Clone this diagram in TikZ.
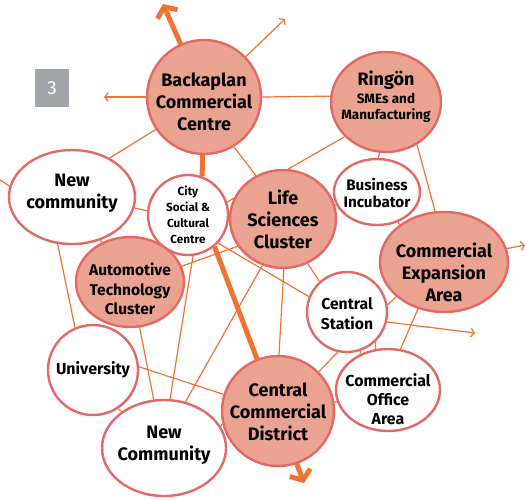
\documentclass[tikz,border=0pt]{standalone}
\usepackage{fontspec}
\setmainfont{Fira Sans}
\usetikzlibrary{shapes.geometric,arrows.meta,backgrounds}
\definecolor{salmon}{HTML}{EAA291}
\definecolor{rim}{HTML}{E46864}
\definecolor{ora}{HTML}{F07332}
\definecolor{boxgray}{HTML}{A2A6AA}
\tikzset{
  hub/.style={ellipse,draw=rim,line width=2.4pt,fill=salmon,inner sep=0pt},
  spoke/.style={ellipse,draw=rim,line width=2.4pt,fill=white,inner sep=0pt},
  lbl/.style={align=center,inner sep=0pt,text=black},
  big/.style={font=\bfseries\fontsize{18}{22}\selectfont},
  link/.style={draw=ora,line width=1.2pt},
  thinarrow/.style={draw=ora,line width=1.2pt,-{Straight Barb[length=3.5pt,width=9pt]}},
  mainline/.style={draw=ora,line width=5pt},
  mainarrow/.style={draw=ora,line width=5pt,-{Straight Barb[length=8pt,width=22pt]}}
}
\begin{document}
\begin{tikzpicture}[x=1pt,y=-1pt]
\useasboundingbox (0,0) rectangle (526,499);
% nodes
\node[hub,minimum width=114pt,minimum height=114pt] (bp) at (204,97) {};
\node[hub,minimum width=110pt,minimum height=100pt] (rg) at (386,102) {};
\node[spoke,minimum width=86pt,minimum height=66pt] (bi) at (377,192) {};
\node[spoke,minimum width=126pt,minimum height=94pt] (nc) at (72,197) {};
\node[spoke,minimum width=80pt,minimum height=80pt] (city) at (188,215) {};
\node[hub,minimum width=106pt,minimum height=98pt] (ls) at (283,219) {};
\node[hub,minimum width=108pt,minimum height=90pt] (atc) at (130,282) {};
\node[hub,minimum width=128pt,minimum height=100pt] (cea) at (444,262) {};
\node[spoke,minimum width=80pt,minimum height=80pt] (cs) at (347,312) {};
\node[spoke,minimum width=90pt,minimum height=90pt] (uni) at (93,370) {};
\node[hub,minimum width=112pt,minimum height=110pt] (ccd) at (278,411) {};
\node[spoke,minimum width=104pt,minimum height=82pt] (coa) at (388,390) {};
\node[spoke,minimum width=124pt,minimum height=96pt] (ncb) at (164,448) {};
% labels
\node[lbl,big] (bp-t) at (204,102) {Backaplan\\Commercial\\Centre};
\node[lbl,big] (rg-t) at (386,80) {Ringön};
\node[lbl,font=\bfseries\fontsize{13.5}{16}\selectfont] (rg-s) at (386,108) {SMEs and\\Manufacturing};
\node[lbl,font=\bfseries\fontsize{15.2}{16.5}\selectfont] (bi-t) at (377,193) {Business\\Incubator};
\node[lbl,big] (nc-t) at (72,193) {New\\community};
\node[lbl,font=\bfseries\fontsize{11.7}{16}\selectfont] (city-t) at (188,215) {City\\Social \&\\Cultural\\Centre};
\node[lbl,big] (ls-t) at (283,219) {Life\\Sciences\\Cluster};
\node[lbl,font=\bfseries\fontsize{15.5}{19.5}\selectfont] (atc-t) at (130,289) {Automotive\\Technology\\Cluster};
\node[lbl,big] (cea-t) at (444,272) {Commercial\\Expansion\\Area};
\node[lbl,font=\bfseries\fontsize{15.7}{20}\selectfont] (cs-t) at (347,314) {Central\\Station};
\node[lbl,font=\bfseries\fontsize{16}{19}\selectfont] (uni-t) at (93,370) {University};
\node[lbl,big] (ccd-t) at (278,412) {Central\\Commercial\\District};
\node[lbl,font=\bfseries\fontsize{15.9}{19}\selectfont] (coa-t) at (388,399) {Commercial\\Office\\Area};
\node[lbl,big] (ncb-t) at (164,445) {New\\Community};
% number box
\node[fill=boxgray,minimum width=34pt,minimum height=38pt,inner sep=0pt,text=white,font=\fontsize{19}{20}\selectfont] (num) at (52,88) {3};
% free ends
\coordinate (toptip) at (163,4);
\coordinate (bottip) at (304,483);
\coordinate (leftend) at (-3,178);
\coordinate (bpleft) at (104,97);
\coordinate (bpup) at (285,19);
\coordinate (cearight) at (525,245);
\coordinate (csright) at (475,333);
\begin{scope}[on background layer]
\draw[link] (bp.0) -- (rg.174);
\draw[link] (bp.214) -- (nc.46);
\draw[link] (bp.301) -- (ls.122);
\draw[link] (rg.220) -- (ls.84);
\draw[link] (rg.263) -- (bi.88);
\draw[link] (rg.306) -- (cea.100);
\draw[link] (bi.305) -- (cea.140);
\draw[link] (bi.198) -- (ls.15);
\draw[link] (nc.350) -- (city.174);
\draw[link] (nc.303) -- (atc.125);
\draw[link] (nc.253) -- (uni.113);
\draw[link] (city.18) -- (ls.157);
\draw[link] (city.317) -- (cs.158);
\draw[link] (atc.17) -- (ls.211);
\draw[link] (city.277) -- (ncb.83);
\draw[link] (atc.282) -- (ncb.102);
\draw[link] (ls.246) -- (ncb.65);
\draw[link] (ls.271) -- (ccd.89);
\draw[link] (ls.299) -- (cs.132);
\draw[link] (uni.4) -- (ccd.163);
\draw[link] (uni.303) -- (ncb.139);
\draw[link] (ncb.21) -- (ccd.193);
\draw[link] (cs.10) -- (cea.216);
\draw[link] (cs.257) -- (ccd.44);
\draw[link] (cs.289) -- (coa.128);
\draw[link] (cs.314) -- (coa.107);
\draw[link] (cea.241) -- (coa.73);
\draw[link] (ccd.9) -- (coa.193);
\draw[link] (leftend) -- (nc.170);
\draw[thinarrow] (bp.180) -- (bpleft);
\draw[thinarrow] (bp.44) -- (bpup);
\draw[thinarrow] (cea.12) -- (cearight);
\draw[thinarrow] (cs.346) -- (csright);
\draw[mainarrow] (bp.center) -- (toptip);
\draw[mainline] (bp.center) -- (city.70);
\draw[mainarrow] (city.-50) -- (bottip);
\end{scope}
\end{tikzpicture}
\end{document}
